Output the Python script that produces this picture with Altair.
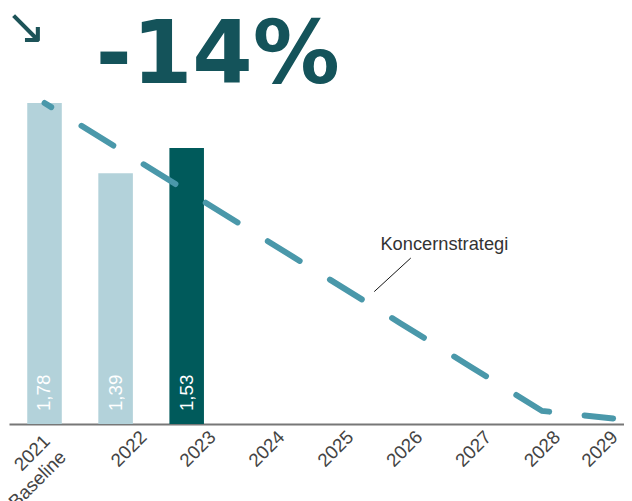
import altair as alt
import pandas as pd

# ---- data ----
years = [2021, 2022, 2023, 2024, 2025, 2026, 2027, 2028, 2029]
target = [1.78, 1.536, 1.292, 1.048, 0.804, 0.56, 0.316, 0.072, 0.03]
bar_years = [2021, 2022, 2023]
bar_values = [1.78, 1.39, 1.53]
bar_kind = ["past", "past", "current"]
headline = "-14%"
line_label = "Koncernstrategi"

bars_df = pd.DataFrame({"year": bar_years, "value": bar_values, "kind": bar_kind})
line_df = pd.DataFrame({"year": years, "target": target})

W, H = 623, 326
xscale = alt.Scale(domain=[2020.5, 2029.1528], nice=False, zero=False, padding=0)
yscale = alt.Scale(domain=[0, 1.785], nice=False, padding=0)

x_axis = alt.Axis(
    values=years,
    format="d",
    labelExpr="datum.value == 2021 ? ['2021', 'Baseline'] : datum.label",
    labelAngle=-45,
    labelAlign="right",
    labelBaseline="middle",
    labelFont="Liberation Sans",
    labelFontSize=19,
    labelColor="#444444",
    labelLineHeight=23,
    labelPadding=alt.ExprRef("datum.value == 2021 ? 14 : 10"),
    labelOffset=alt.ExprRef(
        "datum.value == 2021 ? 2 : datum.value == 2029 ? 1 : 28 - 2.2 * (datum.value - 2022)"
    ),
    labelOverlap=False,
    labelFlush=False,
    labelBound=False,
    ticks=False,
    grid=False,
    domain=True,
    domainColor="#777777",
    domainWidth=2,
    title=None,
)

base_bars = alt.Chart(bars_df)

bars = base_bars.mark_bar(size=35).encode(
    x=alt.X("year:Q", scale=xscale, axis=x_axis),
    y=alt.Y("value:Q", scale=yscale, axis=None),
    color=alt.Color(
        "kind:N",
        scale=alt.Scale(domain=["past", "current"], range=["#b3d2da", "#005a5b"]),
        legend=None,
    ),
)

bar_text = base_bars.transform_calculate(
    lbl="replace(format(datum.value, '.2f'), '.', ',')", zero="0"
).mark_text(
    angle=270, align="left", baseline="middle", dx=13,
    font="Liberation Sans", fontSize=19, color="white",
).encode(
    x=alt.X("year:Q", scale=xscale),
    y=alt.Y("zero:Q", scale=yscale),
    text="lbl:N",
)

line = alt.Chart(line_df).mark_line(
    strokeDash=[38, 36], strokeDashOffset=30, strokeWidth=6,
    strokeCap="round", color="#4a98aa",
).encode(
    x=alt.X("year:Q", scale=xscale),
    y=alt.Y("target:Q", scale=yscale),
)

ann_df = pd.DataFrame({"label": [line_label]})
ann_text = alt.Chart(ann_df).mark_text(
    align="center", baseline="alphabetic", font="Liberation Sans",
    fontSize=18.5, color="#333333",
).encode(
    x=alt.value(441),
    y=alt.value(150),
    text="label:N",
)

leader = alt.Chart(ann_df).mark_rule(color="#111111", strokeWidth=1).encode(
    x=alt.value(370), x2=alt.value(407), y=alt.value(192), y2=alt.value(158)
)

arrow = alt.Chart(ann_df).mark_text(
    text="\u2198", font="DejaVu Sans", fontSize=50, color="#1d5358",
    align="center", baseline="middle",
).encode(x=alt.value(17), y=alt.value(-75))

title_df = pd.DataFrame({"t": [headline]})
title_mark = alt.Chart(title_df).mark_text(
    font="DejaVu Sans", fontWeight="bold", fontSize=88, color="#14535a",
    align="left", baseline="alphabetic",
).encode(x=alt.value(88), y=alt.value(-19), text="t:N")

chart = alt.layer(bars, line, bar_text, leader, ann_text, arrow, title_mark).properties(
    width=W,
    height=H,
    autosize=alt.AutoSizeParams(type="none"),
    padding={"left": 1, "right": 0, "top": 92, "bottom": 90},
).configure_view(stroke=None)

chart.save("out.html", embed_options={"renderer": "svg", "actions": False})
